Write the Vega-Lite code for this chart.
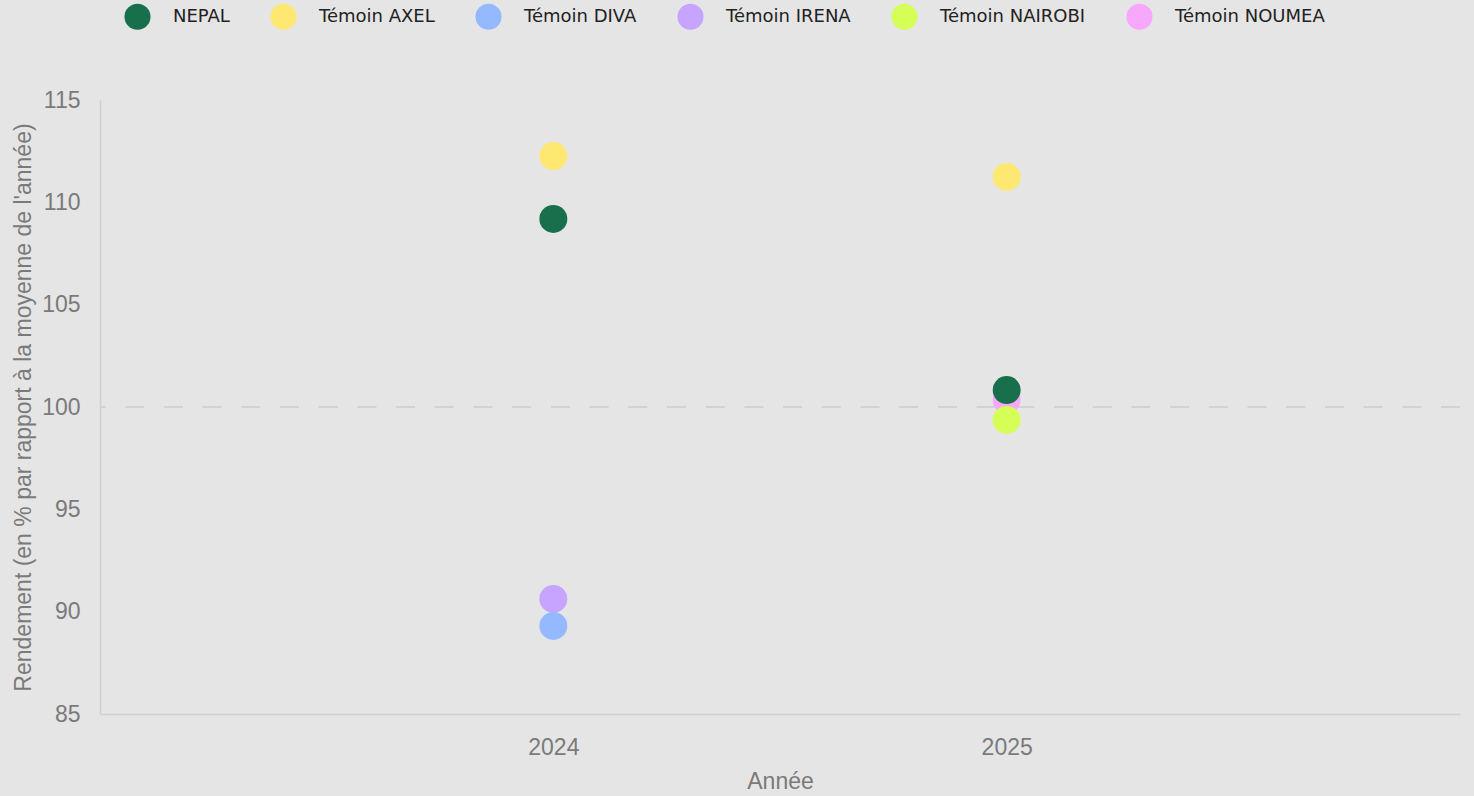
{
  "$schema": "https://vega.github.io/schema/vega-lite/v6.json",
  "autosize": "none",
  "padding": {"left": 100, "top": 100, "right": 14, "bottom": 82},
  "width": 1360,
  "height": 614,
  "background": "#e5e5e5",
  "config": {
    "view": {"stroke": null},
    "axis": {"grid": false, "ticks": false, "domainColor": "#cfcfcf", "domainWidth": 1.5, "labelColor": "#7a7a7a", "titleColor": "#7a7a7a", "labelFont": "Liberation Sans", "titleFont": "Liberation Sans", "labelFontSize": 23, "titleFontSize": 23, "titleFontWeight": "normal"}
  },
  "data": {
    "values": [
      {"annee": "2025", "variete": "Témoin NOUMEA", "rendement": 100.35},
      {"annee": "2024", "variete": "Témoin IRENA", "rendement": 90.62},
      {"annee": "2024", "variete": "Témoin DIVA", "rendement": 89.3},
      {"annee": "2024", "variete": "Témoin AXEL", "rendement": 112.26},
      {"annee": "2024", "variete": "NEPAL", "rendement": 109.19},
      {"annee": "2025", "variete": "Témoin AXEL", "rendement": 111.24},
      {"annee": "2025", "variete": "NEPAL", "rendement": 100.83},
      {"annee": "2025", "variete": "Témoin NAIROBI", "rendement": 99.37}
    ]
  },
  "layer": [
    {
      "data": {"values": [{"ref": 100}]},
      "mark": {"type": "rule", "color": "#d2d2d2", "strokeWidth": 2, "strokeDash": [19, 19.7]},
      "encoding": {"y": {"field": "ref", "type": "quantitative", "scale": {"domain": [85, 115]}}}
    },
    {
      "mark": {"type": "circle", "size": 780, "opacity": 1},
      "encoding": {
        "x": {"field": "annee", "type": "ordinal", "scale": {"type": "point", "padding": 1}, "axis": {"title": "Année", "labelAngle": 0, "labelPadding": 22, "titlePadding": 11}},
        "y": {"field": "rendement", "type": "quantitative", "scale": {"domain": [85, 115], "nice": false, "zero": false}, "axis": {"title": "Rendement (en % par rapport à la moyenne de l'année)", "values": [85, 90, 95, 100, 105, 110, 115], "labelPadding": 20, "titlePadding": 6}},
        "color": {
          "field": "variete", "type": "nominal",
          "scale": {"domain": ["NEPAL", "Témoin AXEL", "Témoin DIVA", "Témoin IRENA", "Témoin NAIROBI", "Témoin NOUMEA"], "range": ["#186f4b", "#ffe872", "#94b9ff", "#c6a4ff", "#d5fe56", "#f8a8fc"]},
          "legend": {"title": null, "orient": "none", "direction": "horizontal", "legendX": 24, "legendY": -97, "columns": 6, "symbolType": "circle", "symbolSize": 680, "symbolOpacity": 1, "symbolStrokeWidth": 0, "labelFont": "DejaVu Sans", "labelFontSize": 18, "labelColor": "#222222", "labelOffset": 22, "columnPadding": 40}
        }
      }
    }
  ]
}
